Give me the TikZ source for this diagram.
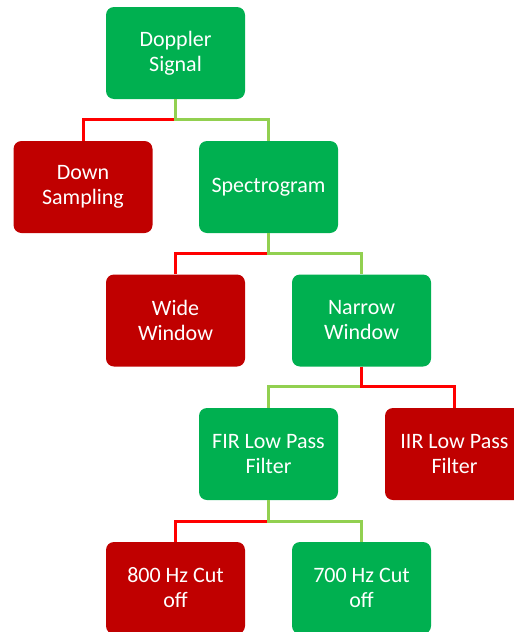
\documentclass[tikz,border=0pt]{standalone}
\usepackage{fontspec}
\setmainfont{Carlito}
\usepackage{tikz}
\usetikzlibrary{positioning}
\definecolor{KeepGreen}{HTML}{00B050}
\definecolor{DropRed}{HTML}{C00000}
\definecolor{LineRed}{HTML}{FF0000}
\definecolor{LineGreen}{HTML}{92D050}

\begin{document}
\begin{tikzpicture}[
      x=1pt, y=-1pt,
      box/.style={rectangle, rounded corners=8pt, draw=none, text=white,
                  minimum width=139pt, minimum height=92pt, inner sep=2pt,
                  align=center, font=\fontsize{22}{25}\selectfont},
      keep/.style={box, fill=KeepGreen},
      drop/.style={box, fill=DropRed},
      redline/.style={draw=LineRed, line width=3pt},
      greenline/.style={draw=LineGreen, line width=3pt}
    ]
      \clip (0,0) rectangle (514,632);
      \useasboundingbox (0,0) rectangle (514,632);
      \node[keep] (doppler) at (175.5,53)  {Doppler\\Signal};
      \node[drop] (down)    at (83,187)    {Down\\Sampling};
      \node[keep] (spectro) at (268.5,187) {Spectrogram};
      \node[drop] (wide)    at (175.5,320.5) {Wide\\Window};
      \node[keep] (narrow)  at (361.5,320.5) {Narrow\\Window};
      \node[keep] (fir)     at (268.5,454) {FIR Low Pass\\Filter};
      \node[drop] (iir)     at (454.5,454) {IIR Low Pass\\Filter};
      \node[drop] (cut800)  at (175.5,588) {800 Hz Cut\\off};
      \node[keep] (cut700)  at (361.5,588) {700 Hz Cut\\off};
      % branches
      \draw[redline]   (doppler.south) -- ++(0,20) -| (down.north);
      \draw[greenline] (doppler.south) -- ++(0,20) -| (spectro.north);
      \draw[redline]   (spectro.south) -- ++(0,20) -| (wide.north);
      \draw[greenline] (spectro.south) -- ++(0,20) -| (narrow.north);
      \draw[greenline] (narrow.south) -- ++(0,20) -| (fir.north);
      \draw[redline]   (narrow.south) -- ++(0,20) -| (iir.north);
      \draw[redline]   (fir.south) -- ++(0,21) -| (cut800.north);
      \draw[greenline] (fir.south) -- ++(0,21) -| (cut700.north);
    \end{tikzpicture}
\end{document}
